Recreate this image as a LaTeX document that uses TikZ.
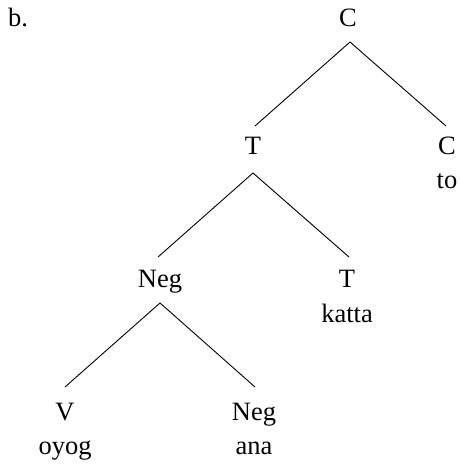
\documentclass[tikz,border=0pt]{standalone}
\usepackage{fontspec}
\setmainfont{Liberation Serif}
\begin{document}
\begin{tikzpicture}[x=1pt,y=-1pt,
  lbl/.style={anchor=base,inner sep=0pt,font=\fontsize{26.5}{32}\selectfont},
  edge/.style={line width=0.9pt}]
\useasboundingbox (0,0) rectangle (459,465);
\node[lbl,anchor=base west] (b) at (8,27) {b.};
\node[lbl] (C0) at (348,27) {C};
\node[lbl] (T1) at (253,154) {T};
\node[lbl] (C1) at (447,154) {C};
\node[lbl] (to) at (447,188) {to};
\node[lbl] (Neg1) at (160,287) {Neg};
\node[lbl] (T2) at (347,287) {T};
\node[lbl] (katta) at (347,322) {katta};
\node[lbl] (V) at (65,420) {V};
\node[lbl] (oyog) at (65,454) {oyog};
\node[lbl] (Neg2) at (254,420) {Neg};
\node[lbl] (ana) at (254,454) {ana};
% edge end points
\coordinate (c0b) at (350,42);
\coordinate (t1t) at (255,126);
\coordinate (c1t) at (446,126);
\coordinate (t1b) at (253,173);
\coordinate (n1t) at (158,257);
\coordinate (t2t) at (349,257);
\coordinate (n1b) at (160,303);
\coordinate (vt) at (65,387);
\coordinate (n2t) at (255,387);
\draw[edge] (t1t) -- (c0b) -- (c1t);
\draw[edge] (n1t) -- (t1b) -- (t2t);
\draw[edge] (vt) -- (n1b) -- (n2t);
\end{tikzpicture}
\end{document}
